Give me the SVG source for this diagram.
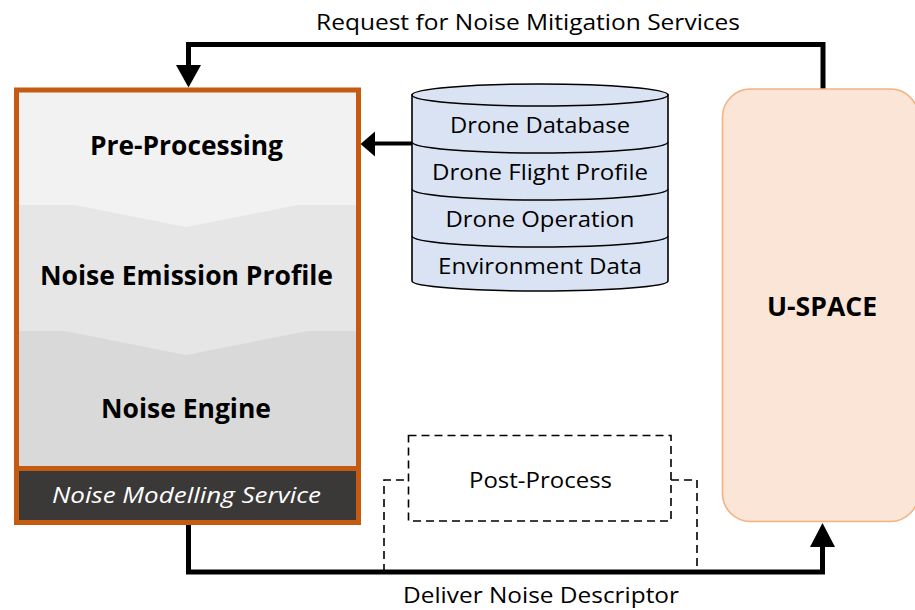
<svg xmlns="http://www.w3.org/2000/svg" width="915" height="610" viewBox="0 0 915 610">
  <style>
    .lbl { font-family: "Open Sans", "Liberation Sans", sans-serif; fill: #000; text-anchor: middle; }
    .b { font-weight: bold; font-size: 26px; }
    .db { font-size: 21px; }
    .conn { fill: none; stroke: #000; stroke-width: 5; }
    .dash { fill: none; stroke: #000; stroke-width: 1.6; stroke-dasharray: 8 5; }
    .cyl { fill: #dae3f3; stroke: #000; stroke-width: 1.6; }
  </style>

  <g id="connectors">
    <path class="conn" d="M823,89 V44.5 H188.5 V66" />
    <path d="M176,65 L201,65 L188.5,87.5 Z" fill="#000"/>
    <path class="conn" d="M188.5,524 V572 H822.5 V546" />
    <path d="M810,547 L835,547 L822.5,523 Z" fill="#000"/>
    <path class="conn" d="M412,143.5 H374" style="stroke-width:4"/>
    <path d="M375,131.5 L375,156.5 L360.5,144 Z" fill="#000"/>
    <text class="lbl" x="528" y="30" font-size="21" textLength="424" lengthAdjust="spacingAndGlyphs">Request for Noise Mitigation Services</text>
    <text class="lbl" x="541" y="603" font-size="21" textLength="276" lengthAdjust="spacingAndGlyphs">Deliver Noise Descriptor</text>
  </g>

  <g id="noise-modelling-service">
    <rect x="16.5" y="90" width="342" height="432.5" fill="#f2f2f2"/>
    <path d="M16.5,205 H75 L186,227 L298,205 H358.5 V468 H16.5 Z" fill="#e6e6e6"/>
    <path d="M16.5,331 H65 L186,355 L308,331 H358.5 V468 H16.5 Z" fill="#d9d9d9"/>
    <rect x="16.5" y="468.5" width="342" height="54" fill="#3b3838"/>
    <line x1="16.5" y1="468.5" x2="358.5" y2="468.5" stroke="#c55a11" stroke-width="5"/>
    <rect x="16.5" y="90" width="342" height="432.5" fill="none" stroke="#c55a11" stroke-width="5"/>
    <text class="lbl b" x="186.5" y="155" textLength="193" lengthAdjust="spacingAndGlyphs">Pre-Processing</text>
    <text class="lbl b" x="186.5" y="285" textLength="293" lengthAdjust="spacingAndGlyphs">Noise Emission Profile</text>
    <text class="lbl b" x="186" y="418" textLength="170" lengthAdjust="spacingAndGlyphs">Noise Engine</text>
    <text class="lbl" x="186.5" y="503" font-size="22" font-style="italic" style="fill:#fff" textLength="269" lengthAdjust="spacingAndGlyphs">Noise Modelling Service</text>
  </g>

  <g id="database">
    <path class="cyl" d="M412,95 V281 A128,10 0 0 0 668,281 V95 Z"/>
    <ellipse class="cyl" cx="540" cy="95" rx="128" ry="11"/>
    <path d="M412,142 A128,11 0 0 0 668,142 M412,189 A128,11 0 0 0 668,189 M412,236 A128,11 0 0 0 668,236" fill="none" stroke="#000" stroke-width="1.6"/>
    <text class="lbl db" x="540" y="133" textLength="180" lengthAdjust="spacingAndGlyphs">Drone Database</text>
    <text class="lbl db" x="540" y="180" textLength="216" lengthAdjust="spacingAndGlyphs">Drone Flight Profile</text>
    <text class="lbl db" x="540" y="227" textLength="189" lengthAdjust="spacingAndGlyphs">Drone Operation</text>
    <text class="lbl db" x="540" y="274" textLength="204" lengthAdjust="spacingAndGlyphs">Environment Data</text>
  </g>

  <g id="post-process">
    <rect class="dash" x="408.5" y="435.5" width="262.5" height="85.5"/>
    <path class="dash" d="M384,572 V480 H408.5 M671,480 H697 V572"/>
    <text class="lbl" x="540.5" y="488" font-size="21" textLength="143" lengthAdjust="spacingAndGlyphs">Post-Process</text>
  </g>

  <g id="u-space">
    <rect x="722.5" y="89" width="196" height="432.5" rx="28" ry="28" fill="#fbe5d6" stroke="#f4b183" stroke-width="1.6"/>
    <text class="lbl b" x="822" y="316" textLength="110" lengthAdjust="spacingAndGlyphs">U-SPACE</text>
  </g>
</svg>
